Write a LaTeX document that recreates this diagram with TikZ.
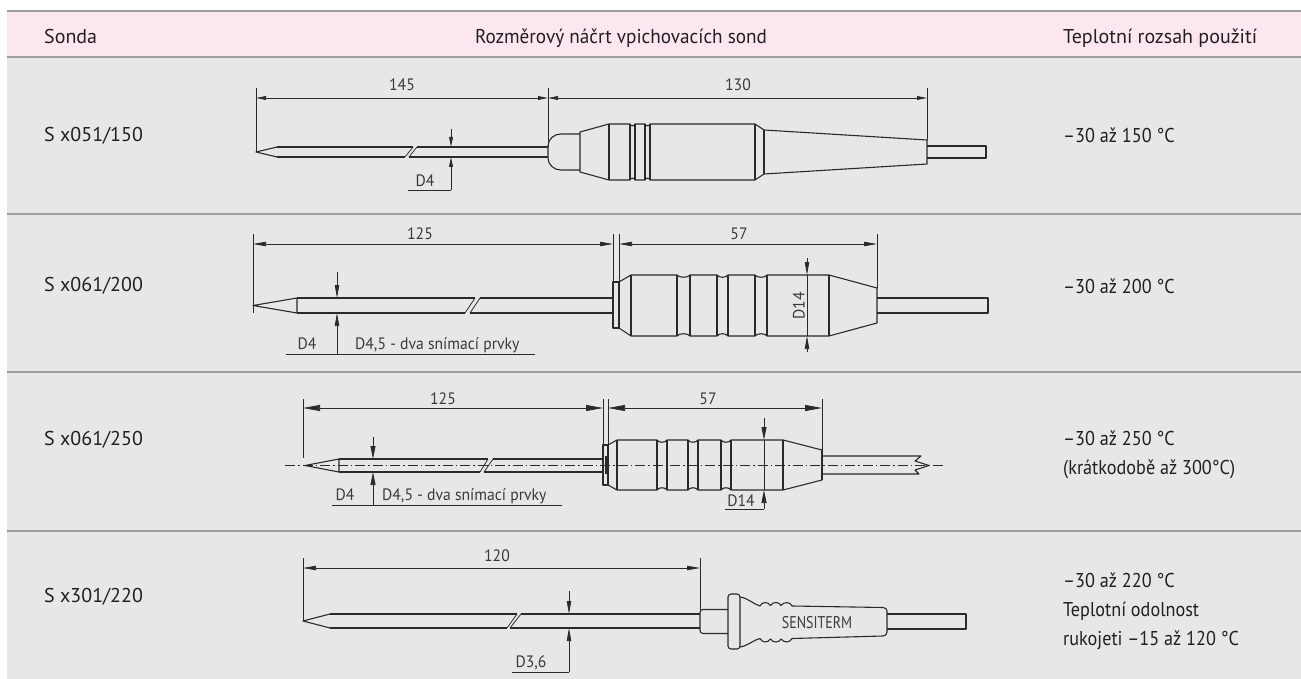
\documentclass[tikz,border=0pt]{standalone}
\usepackage{fontspec}
\setmainfont{PT Sans}
\newfontfamily\ttlf[FakeStretch=0.96]{PT Sans}
\newfontfamily\tmpf[FakeStretch=0.91]{PT Sans}
\newfontfamily\lbl[FakeStretch=0.95]{PT Sans}
\newfontfamily\lblc[FakeStretch=0.82]{PT Sans}
\usetikzlibrary{arrows.meta}
\definecolor{pinkbg}{HTML}{FCE6EF}
\definecolor{graybg}{HTML}{E6E7E8}
\definecolor{sepc}{HTML}{9E9E9E}
\definecolor{ink}{HTML}{2A2A2A}
\definecolor{txt}{HTML}{231F20}
\definecolor{ltxt}{HTML}{3A3A3A}
\tikzset{
  part/.style={draw=ink, line width=1.1pt, line join=round},
  dimln/.style={draw=ink, line width=0.75pt},
  ctrl/.style={draw=ink, line width=0.6pt, dash pattern=on 10pt off 3pt on 1.5pt off 3pt},
  tipA/.tip={Triangle[length=10pt,width=3.8pt]},
  tipB/.tip={Triangle[length=13pt,width=4.4pt]},
  tipC/.tip={Triangle[length=17pt,width=6pt]},
  tipD/.tip={Triangle[length=13pt,width=5pt]},
  hdr/.style={font=\fontsize{20}{24}\selectfont, text=txt, inner sep=0pt},
  rowlab/.style={font=\fontsize{20}{24}\selectfont, text=txt, inner sep=0pt},
  cell/.style={font=\tmpf\fontsize{20}{29}\selectfont, text=txt, inner sep=0pt, align=left},
  dlab/.style={font=\lbl\fontsize{16.5}{20}\selectfont, text=ltxt, inner sep=0pt},
}
\begin{document}
\begin{tikzpicture}[x=1pt,y=-1pt]
\useasboundingbox (0,0) rectangle (1301,679);
\fill[white] (0,0) rectangle (1301,679);
% table background
\fill[pinkbg] (7,11) rectangle (1301,57);
\fill[graybg] (7,57) rectangle (1301,679);
\foreach \yy in {11,57,214,372,531}
  \draw[sepc, line width=1.2pt] (7,\yy) -- (1301,\yy);
% header
\node[hdr, anchor=base west] (hSonda) at (44,44) {Sonda};
\node[hdr, font=\ttlf\fontsize{20}{24}\selectfont, anchor=base] (hNacrt) at (621,44) {Rozměrový náčrt vpichovacích sond};
\node[hdr, anchor=base west] (hTepl) at (1063,44) {Teplotní rozsah použití};
% row labels
\node[rowlab, anchor=west] (s1) at (44,135.5) {S x051/150};
\node[rowlab, anchor=west] (s2) at (44,286) {S x061/200};
\node[rowlab, anchor=west] (s3) at (44,440) {S x061/250};
\node[rowlab, anchor=west] (s4) at (44,597) {S x301/220};
\node[cell, anchor=west] (t1) at (1063,135.5) {–30 až 150 °C};
\node[cell, anchor=west] (t2) at (1063,286) {–30 až 200 °C};
\node[cell, anchor=west] (t3) at (1063,454.5) {–30 až 250 °C\\(krátkodobě až 300°C)};
\node[cell, anchor=west] (t4) at (1063,611) {–30 až 220 °C\\Teplotní odolnost\\rukojeti –15 až 120 °C};

%%%%%%%%%%%% ROW 1
\draw[dimln] (256,88) -- (256,152);
\draw[dimln] (548,88) -- (548,147);
\draw[dimln] (927,88) -- (927,140);
\draw[dimln, tipA-tipA] (256,98) -- (548,98);
\draw[dimln, tipA-tipA] (548,98) -- (927,98);
\node[dlab, anchor=base] (l145) at (402,91) {145};
\node[dlab, anchor=base] (l130) at (738,91) {130};
% needle
\draw[part] (277,147) -- (256,152) -- (277,157);
\draw[part] (277,147) -- (413,147) (417,147) -- (548,147);
\draw[part] (277,157) -- (405,157) (409,157) -- (548,157);
\draw[dimln] (405,157) -- (413,147) (409,157) -- (417,147);
% D4
\draw[dimln, -tipA] (451,129) -- (451,147);
\draw[dimln, -tipA] (451,190) -- (451,157);
\draw[dimln] (408,190) -- (451,190);
\node[dlab, anchor=base] (d1) at (425,187) {D4};
% handle
\draw[part] (580,134) -- (561,134) to[out=180,in=90] (548,146) -- (548,158) to[out=-90,in=180] (561,170) -- (580,170);
\draw[part] (580,132) -- (609,124) -- (630,124) .. controls (631.5,126.5) and (633.5,126.5) .. (635,124)
  -- (645,124) .. controls (646.5,126.5) and (648.5,126.5) .. (650,124) -- (755,124) -- (764,130) -- (927,140)
  -- (927,164) -- (764,174) -- (755,180) -- (650,180) .. controls (648.5,177.5) and (646.5,177.5) .. (645,180)
  -- (635,180) .. controls (633.5,177.5) and (631.5,177.5) .. (630,180) -- (609,180) -- (580,172) -- cycle;
\foreach \xx in {609,630,635,645,650,755} \draw[part] (\xx,124) -- (\xx,180);
\draw[part] (764,130) -- (764,174);
\draw[part] (927,146) -- (986,146) -- (986,158) -- (927,158);

%%%%%%%%%%%% ROW 2
\draw[dimln] (253,234) -- (253,313);
\draw[dimln] (613,234) -- (613,282);
\draw[dimln] (619,234) -- (619,282);
\draw[dimln] (877,234) -- (877,288);
\draw[dimln, tipB-tipB] (253,244) -- (613,244);
\draw[dimln, tipB-tipB] (619,244) -- (877,244);
\node[dlab, anchor=base] (l125a) at (420,240) {125};
\node[dlab, anchor=base] (l57a) at (739,240) {57};
% needle
\draw[part] (297,298) -- (253,305.5) -- (297,313) -- cycle;
\draw[part] (297,298) -- (475,298) (480,298) -- (613,298);
\draw[part] (297,313) -- (465,313) (470,313) -- (613,313);
\draw[dimln] (465,313) -- (475,298) (470,313) -- (480,298);
% D4
\draw[dimln, -tipB] (337,272) -- (337,298);
\draw[dimln, -tipB] (337,354) -- (337,313);
\draw[dimln] (286,354) -- (535,354);
\node[dlab, anchor=base] (d2a) at (307,349) {D4};
\node[dlab, anchor=base west] (d2b) at (355,349) {D4,5 - dva snímací prvky};
% flange & handle
\draw[part] (613,282) rectangle (619,328);
\draw[part] (619,282) -- (631,275) -- (677,275) .. controls (679,278) and (688,278) .. (690,275)
  -- (717,275) .. controls (719,278) and (726,278) .. (728,275)
  -- (755,275) .. controls (757,278) and (765,278) .. (767,275)
  -- (829,275) -- (877,288) -- (877,323) -- (829,336)
  -- (767,336) .. controls (765,333) and (757,333) .. (755,336)
  -- (728,336) .. controls (726,333) and (719,333) .. (717,336)
  -- (690,336) .. controls (688,333) and (679,333) .. (677,336)
  -- (631,336) -- (619,328);
\foreach \xx in {631,677,690,717,728,755,767,829} \draw[part] (\xx,275) -- (\xx,336);
\draw[part] (877,298) -- (988,298) -- (988,313) -- (877,313);
% D14
\draw[dimln] (807,275) -- (807,336);
\draw[dimln, -tipB] (807,258) -- (807,275);
\draw[dimln, -tipB] (807,352) -- (807,336);
\node[dlab, rotate=90, anchor=south] (d14a) at (805,306) {D14};

%%%%%%%%%%%% ROW 3
\draw[ctrl] (285,465) -- (943,465);
\draw[dimln] (303,399) -- (303,458);
\draw[dimln] (603,399) -- (603,445);
\draw[dimln] (608,399) -- (608,445);
\draw[dimln] (822,399) -- (822,450);
\draw[dimln, tipC-tipC] (303,408) -- (603,408);
\draw[dimln, tipC-tipC] (608,408) -- (822,408);
\node[dlab, anchor=base] (l125b) at (443,404) {125};
\node[dlab, anchor=base] (l57b) at (708,404) {57};
% needle
\draw[part] (339,459) -- (305,465.5) -- (339,472) -- cycle;
\draw[part] (339,459) -- (488,459) (493,459) -- (603,459);
\draw[part] (339,472) -- (480,472) (484,472) -- (603,472);
\draw[dimln] (480,472) -- (488,459) (484,472) -- (493,459);
% D4
\draw[dimln, -tipD] (373,437) -- (373,459);
\draw[dimln, -tipD] (373,505) -- (373,472);
\draw[dimln] (332,505) -- (562,505);
\node[dlab, anchor=base] (d3a) at (345,500) {D4};
\node[dlab, anchor=base west] (d3b) at (382,500) {D4,5 - dva snímací prvky};
% flange & handle
\draw[part] (603,445) rectangle (608,485);
\draw[ink, line width=2pt] (605.5,456) -- (605.5,474);
\draw[part] (608,445) -- (617,440) -- (657,440) .. controls (659,443) and (665,443) .. (667,440)
  -- (688,440) .. controls (690,443) and (696,443) .. (698,440)
  -- (721,440) .. controls (723,443) and (729,443) .. (731,440)
  -- (783,440) -- (822,450) -- (822,480) -- (783,490)
  -- (731,490) .. controls (729,487) and (723,487) .. (721,490)
  -- (698,490) .. controls (696,487) and (690,487) .. (688,490)
  -- (667,490) .. controls (665,487) and (659,487) .. (657,490)
  -- (617,490) -- (608,485);
\foreach \xx in {617,657,667,688,698,721,731,783} \draw[part] (\xx,440) -- (\xx,490);
\draw[ink, line width=1.8pt] (822,450) -- (822,480);
\draw[part] (822,456) -- (921,456) -- (915,461) -- (929,465.5) -- (915,470) -- (919,474) -- (822,474);
% D14
\draw[dimln] (764,440) -- (764,490);
\draw[dimln, -tipD] (764,418) -- (764,440);
\draw[dimln, -tipD] (764,509) -- (764,490);
\draw[dimln] (725,509) -- (764,509);
\node[dlab, anchor=base] (d14b) at (741,506) {D14};

%%%%%%%%%%%% ROW 4
\draw[dimln] (303,558) -- (303,621);
\draw[dimln] (700,558) -- (700,610);
\draw[dimln, tipB-tipB] (303,568) -- (700,568);
\node[dlab, anchor=base] (l120) at (497,561) {120};
% needle
\draw[part] (330,614) -- (303,621) -- (330,628);
\draw[part] (330,614) -- (517,614) (521,614) -- (700,614);
\draw[part] (330,628) -- (507,628) (510,628) -- (700,628);
\draw[dimln] (507,628) -- (517,614) (510,628) -- (521,614);
% D3,6
\draw[dimln, -tipB] (569,591) -- (569,614);
\draw[dimln, -tipB] (569,672) -- (569,628);
\draw[dimln] (512,672) -- (569,672);
\node[dlab, anchor=base] (d36) at (531,667) {D3,6};
% handle
\draw[part, rounded corners=3pt] (728,609.5) -- (700,609.5) -- (700,633.5) -- (728,633.5);
\draw[part, rounded corners=3pt] (728,594) rectangle (740,649);
\draw[part] (740,597) .. controls (748,598) and (753,604) .. (760,606)
  .. controls (762,601.5) and (768,601.5) .. (770.5,605.5)
  .. controls (773,601.5) and (779,601.5) .. (781,605.5)
  .. controls (784,601.5) and (790,601.5) .. (792,606)
  -- (883,607.5) to[out=0,in=90] (887,611) -- (887,632) to[out=-90,in=0] (883,636) -- (792,638.5)
  .. controls (790,643) and (784,643) .. (781,639)
  .. controls (779,643) and (773,643) .. (770.5,639)
  .. controls (768,643) and (762,643) .. (760,638.5)
  .. controls (753,640) and (748,646) .. (740,647);
\draw[part] (887,614) -- (966,614) -- (966,629) -- (887,629);
\node[font=\lblc\fontsize{17}{20}\selectfont, text=ltxt, inner sep=0pt] (brand) at (817,622.5) {SENSITERM};
\end{tikzpicture}
\end{document}
